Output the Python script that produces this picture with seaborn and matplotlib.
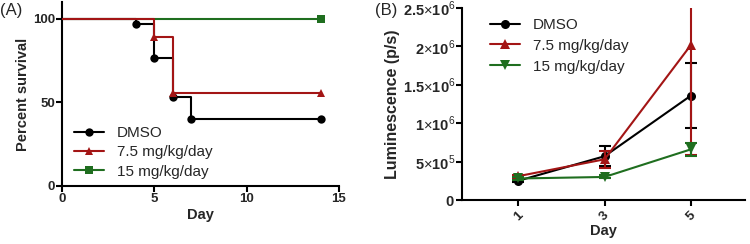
import matplotlib
matplotlib.use("Agg")
import matplotlib.pyplot as plt
import seaborn as sns
import pandas as pd
import numpy as np
from matplotlib.ticker import FuncFormatter

sns.set_theme(style="ticks")
plt.rcParams['font.family'] = ['Liberation Sans', 'DejaVu Sans']
plt.rcParams['mathtext.fontset'] = 'custom'
plt.rcParams['mathtext.rm'] = 'Liberation Sans'
plt.rcParams['mathtext.bf'] = 'Liberation Sans:bold'

# ---- Data ----
groups = ["DMSO", "7.5 mg/kg/day", "15 mg/kg/day"]
colors = ["#000000", "#A31515", "#1F6E1F"]

# Panel A: Kaplan-Meier survival (step curves)
surv_days_dmso = [0, 4, 5, 6, 7, 14]
surv_pct_dmso = [100, 96.7, 76.7, 53.3, 40.0, 40.0]
surv_days_75 = [0, 5, 6, 14]
surv_pct_75 = [100, 88.9, 55.6, 55.6]
surv_days_15 = [0, 14]
surv_pct_15 = [100, 100]

# Panel B: luminescence
lum_days = [1, 3, 5]
lum_dmso = [0.25e6, 0.57e6, 1.36e6]
lum_dmso_err = [0.02e6, 0.13e6, 0.42e6]
lum_75 = [0.31e6, 0.53e6, 2.02e6]
lum_75_err = [0.02e6, 0.11e6, 1.43e6]
lum_15 = [0.28e6, 0.30e6, 0.66e6]
lum_15_err = [0.02e6, 0.02e6, 0.085e6]

fig = plt.figure(figsize=(7.5, 2.44), dpi=100)
axA = fig.add_axes([62/750, 1-186/244, 277/750, 184/244])
axB = fig.add_axes([462/750, 1-200/244, 283/750, 192/244])

# ---- Panel A ----
surv = [(surv_days_dmso, surv_pct_dmso, "o"),
        (surv_days_75, surv_pct_75, "^"),
        (surv_days_15, surv_pct_15, "s")]
for (d, p, m), g, c in zip(surv, groups, colors):
    df = pd.DataFrame({"Day": d, "Percent": p})
    sns.lineplot(data=df, x="Day", y="Percent", ax=axA, color=c, lw=1.5,
                 drawstyle="steps-post", marker=m, markersize=6,
                 markeredgewidth=0, markevery=list(range(1, len(d))),
                 label=g, zorder=3 if g != groups[2] else 2)
axA.set_xlim(0, 15)
axA.set_ylim(0, 110)
axA.set_xticks([0, 5, 10, 15])
axA.set_yticks([0, 50, 100])
axA.set_xlabel("Day", fontsize=10.5, fontweight="bold", labelpad=2)
axA.set_ylabel("Percent survival", fontsize=10.5, fontweight="bold", labelpad=2)
axA.legend(loc="lower left", bbox_to_anchor=(0.01, -0.01), frameon=False,
           fontsize=11, handlelength=2.0, handletextpad=0.8, labelspacing=0.35,
           borderaxespad=0.2)

# ---- Panel B ----
markersB = ["o", "^", "v"]
for vals, errs, g, c, m in zip([lum_dmso, lum_75, lum_15],
                               [lum_dmso_err, lum_75_err, lum_15_err],
                               groups, colors, markersB):
    df = pd.DataFrame({"Day": lum_days, "Lum": vals})
    sns.lineplot(data=df, x="Day", y="Lum", ax=axB, color=c, lw=1.5,
                 marker=m, markersize=6.5, markeredgewidth=0, label=g)
    axB.errorbar(lum_days, vals, yerr=errs, fmt="none", ecolor=c,
                 elinewidth=1.5, capsize=4, capthick=1.5)
axB.set_xlim(-0.3, 6.25)
axB.set_ylim(0, 2.5e6)
axB.set_xticks(lum_days)
axB.set_yticks([0, 0.5e6, 1e6, 1.5e6, 2e6, 2.5e6])


def fmt(v, pos):
    if v == 0:
        return r"$\mathbf{0}$"
    e = int(np.floor(np.log10(v)))
    mant = v / 10**e
    ms = ("%g" % mant)
    return r"$\mathbf{%s}{\times}\mathbf{10}^{%d}$" % (ms, e)


axB.yaxis.set_major_formatter(FuncFormatter(fmt))
axB.set_xlabel("Day", fontsize=10.5, fontweight="bold", labelpad=0)
axB.set_ylabel("Luminescence (p/s)", fontsize=11.5, fontweight="bold", labelpad=2)
axB.legend(loc="upper left", bbox_to_anchor=(0.05, 1.02), frameon=False,
           fontsize=11, handlelength=2.0, handletextpad=0.8, labelspacing=0.45)

for ax in (axA, axB):
    sns.despine(ax=ax)
    ax.spines["left"].set_linewidth(1.5)
    ax.spines["bottom"].set_linewidth(1.5)
    ax.spines["left"].set_color("black")
    ax.spines["bottom"].set_color("black")
    ax.tick_params(axis="both", direction="out", length=4, width=1.5,
                   color="black", labelsize=9.5, pad=1)
    for lab in ax.get_xticklabels() + ax.get_yticklabels():
        lab.set_fontweight("bold")
axB.tick_params(axis="y", labelsize=10.5)
axB.tick_params(axis="x", pad=3)
for lab in axB.get_xticklabels():
    lab.set_rotation(45)

fig.text(0.0, 0.955, "(A)", fontsize=12, ha="left", va="center")
fig.text(375/750, 0.955, "(B)", fontsize=12, ha="left", va="center")

fig.savefig("out.png", dpi=100)
